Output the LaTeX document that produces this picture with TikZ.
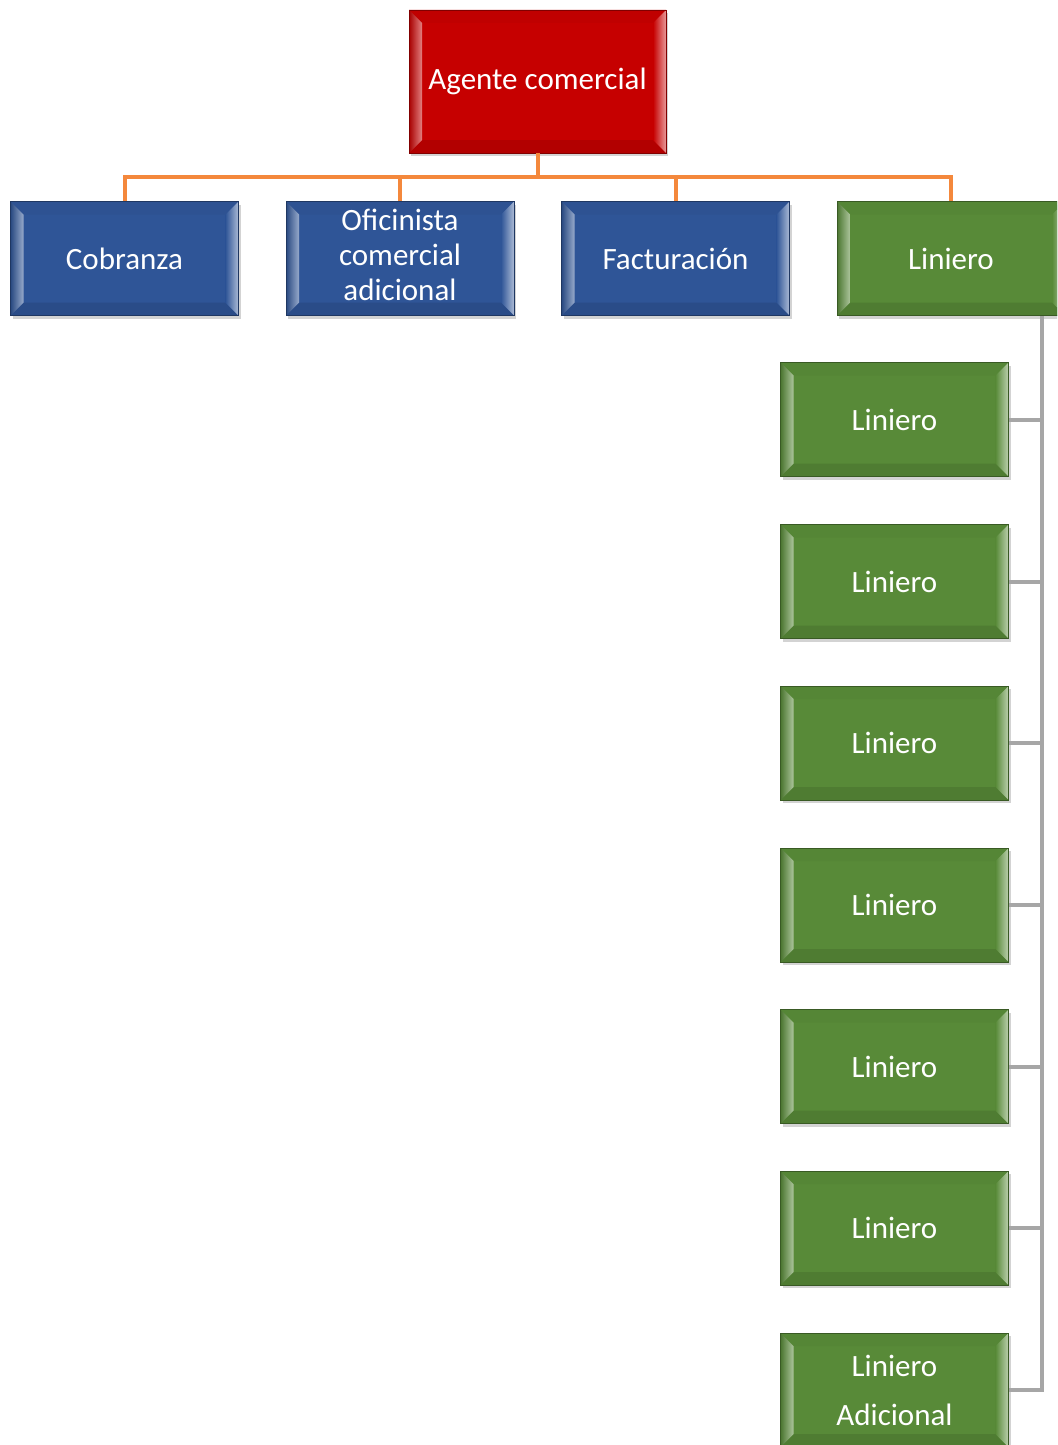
\documentclass[tikz,border=0pt]{standalone}
\usepackage{fontspec}
\setmainfont{Carlito}
\usetikzlibrary{shadows}
\definecolor{agred}{HTML}{C60000}
\definecolor{agblue}{HTML}{2F5597}
\definecolor{aggreen}{HTML}{588A38}
\definecolor{agorange}{HTML}{F4883C}
\definecolor{aggray}{HTML}{A6A6A6}

\begin{document}
\begin{tikzpicture}[x=1pt,y=-1pt]
    % Setup the styles for the boxes and lines
    \tikzset{box style/.style={rectangle,
                               minimum width=228pt,
                               minimum height=114pt,
                               inner sep=0pt,
                               align=center,
                               text=white,
                               font=\fontsize{31}{35}\selectfont,
                               fill=#1,
                               draw=#1!65!black,
                               line width=0.8pt,
                               drop shadow={shadow xshift=2pt, shadow yshift=-3pt, opacity=0.35},
                               path picture={
                                 \coordinate (nw) at (path picture bounding box.north west);
                                 \coordinate (ne) at (path picture bounding box.north east);
                                 \coordinate (sw) at (path picture bounding box.south west);
                                 \coordinate (se) at (path picture bounding box.south east);
                                 \fill[#1!97!black] (nw) -- (ne) -- ([shift={(-13pt,-13pt)}]ne) -- ([shift={(13pt,-13pt)}]nw) -- cycle;
                                 \fill[#1!90!black] (sw) -- (se) -- ([shift={(-13pt,13pt)}]se) -- ([shift={(13pt,13pt)}]sw) -- cycle;
                                 \shade[left color=#1!85!black, right color=#1!50!white] (nw) -- ([shift={(13pt,-13pt)}]nw) -- ([shift={(13pt,13pt)}]sw) -- (sw) -- cycle;
                                 \shade[left color=#1, right color=#1!40!white] (ne) -- ([shift={(-13pt,-13pt)}]ne) -- ([shift={(-13pt,13pt)}]se) -- (se) -- cycle;
                               }},
             orange line/.style={draw=agorange, line width=4pt},
             gray line/.style={draw=aggray, line width=4pt}}

    \clip (0,0) rectangle (1057,1445);

    % Draw the boxes
    \node[box style=agred, minimum width=257pt, minimum height=143pt] at (537.5, 81.5) (agente) {Agente comercial};
    \node[box style=agblue] at (124.5, 258.5) (cob) {Cobranza};
    \node[box style=agblue] at (400, 258.5) (ofi) {\raisebox{2pt}{\begin{tabular}{@{}c@{}}Oficinista\\comercial\\adicional\end{tabular}}};
    \node[box style=agblue] at (675.5, 258.5) (fac) {Facturación};
    \node[box style=aggreen] at (951, 258.5) (lin0) {Liniero};
    \foreach \k/\y in {1/419.5, 2/581.5, 3/743, 4/905, 5/1066.5, 6/1228} {
        \node[box style=aggreen] at (894.5, \y) (lin\k) {Liniero};
    }
    \node[box style=aggreen] at (894.5, 1390) (lin7) {Liniero\\[14pt]Adicional};

    % Connect the boxes
    \coordinate (bus) at (537.5, 177);
    \coordinate (trunk) at (1042, 316);
    \draw[orange line] (agente.south) -- (bus);
    \foreach \n in {cob, ofi, fac, lin0} {
        \draw[orange line] (bus) -| (\n.north);
    }
    \foreach \k in {1,...,7} {
        \draw[gray line] (trunk) |- (lin\k.east);
    }
\end{tikzpicture}
\end{document}
